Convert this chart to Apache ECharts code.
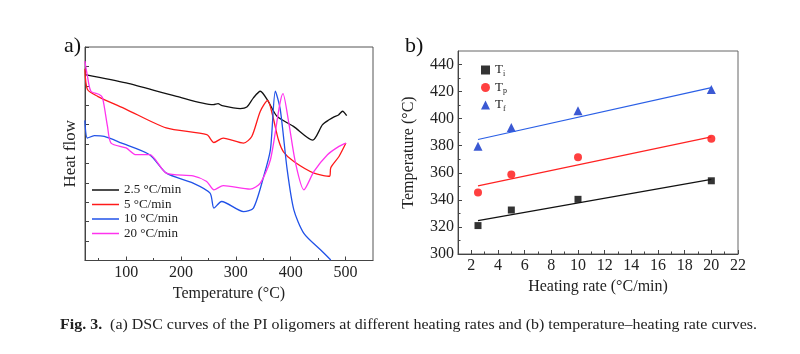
<!DOCTYPE html>
<html>
<head>
<meta charset="utf-8">
<script src="https://cdn.jsdelivr.net/npm/echarts@6/dist/echarts.min.js"></script>
<style>
  html, body { margin: 0; padding: 0; background: #fff; }
  #chart { width: 800px; height: 354px; }
</style>
</head>
<body>
<div id="chart"></div>
<script>
// (a) DSC curves: [temperature °C, heat flow (a.u.)]
const dsc2_5 = [[25.3, 9.58], [100, 9.15], [191.8, 8.46], [259, 8.03], [267.5, 8.08], [275, 7.98],
  [308, 7.83], [320, 7.91], [332, 8.38], [344.6, 8.72], [359, 8.2], [375, 7.43], [405, 6.91],
  [440, 6.2], [458, 7.0], [470, 7.25], [479, 7.4], [487, 7.5], [494.5, 7.69], [502, 7.46]];
const dsc5 = [[24.8, 9.88], [29.5, 8.81], [48, 8.46], [100, 7.79], [173, 6.83], [247, 6.48],
  [260, 6.08], [277, 6.31], [314, 6.05], [329, 6.39], [344.6, 7.69], [358, 8.25], [366.6, 7.52],
  [377.6, 6.22], [386.8, 5.6], [405.7, 5.1], [442.4, 4.5], [471, 4.34], [473, 4.78], [488, 5.36],
  [500.6, 6.05]];
const dsc10 = [[24.8, 7.22], [29.5, 6.31], [42, 6.43], [60, 6.39], [90.8, 6.06], [142.8, 5.45],
  [173.4, 4.5], [222, 3.99], [253, 3.47], [260, 2.7], [274, 3.04], [314, 2.52], [332, 2.7],
  [350.7, 4.33], [363, 5.71], [372, 8.72], [381, 7.77], [393.6, 4.67], [405.7, 2.61], [424, 1.4],
  [454.7, 0.54], [473, 0.03]];
const dsc20 = [[24.8, 10.27], [29.5, 9.49], [35.8, 8.72], [51, 8.55], [57, 8.38], [66, 6.91],
  [72.5, 6.05], [100, 5.8], [118, 5.45], [142.8, 5.45], [173.4, 4.5], [222, 4.36], [246.8, 4.07],
  [260, 3.64], [277, 3.86], [326, 3.68], [344.6, 3.99], [363, 5.19], [386, 8.6], [396.5, 7.09],
  [408.8, 5.02], [424, 3.64], [442.4, 4.59], [467, 5.45], [488, 5.88], [500.6, 6.05]];
const dscNames = ['2.5 °C/min', '5 °C/min', '10 °C/min', '20 °C/min'];
const tempTicks = [100, 200, 300, 400, 500];
const tempMinor = [50, 150, 250, 350, 450];

// (b) characteristic temperatures vs heating rate
const rates = [2.5, 5, 10, 20];
const ti = [321, 332.5, 340.4, 354.1];
const tp = [345.5, 358.8, 371.4, 385.1];
const tf = [379.7, 393.5, 405.8, 421.5];
const fitRates = [2.5, 20];
const tiFit = [324.6, 355.1];
const tpFit = [350.4, 386.6];
const tfFit = [384.6, 423.0];
const rateTicks = [2, 4, 6, 8, 10, 12, 14, 16, 18, 20, 22];
const rateMinor = [3, 5, 7, 9, 11, 13, 15, 17, 19, 21];
const tempYTicks = [300, 320, 340, 360, 380, 400, 420, 440];
const tempYMinor = [310, 330, 350, 370, 390, 410, 430];

const FONT = "'Liberation Serif', 'Times New Roman', serif";
const AXIS = '#444';
const pairs = (xs, ys) => xs.map((x, i) => [x, ys[i]]);

const chart = echarts.init(document.getElementById('chart'));

const axisBase = {
  axisLine: { show: true, lineStyle: { color: AXIS, width: 1 } },
  splitLine: { show: false },
  nameTextStyle: { fontFamily: FONT, fontSize: 16, color: '#222' },
  axisLabel: { fontFamily: FONT, fontSize: 16, color: '#222', margin: 4 }
};
const minorAxis = (extra) => Object.assign({
  type: 'value', axisLine: { show: false }, axisLabel: { show: false }, splitLine: { show: false }
}, extra);

chart.setOption({
  animation: false,
  title: [
    { text: 'a)', left: 59, top: 30, textStyle: { fontFamily: FONT, fontSize: 22, fontWeight: 'normal', color: '#111' } },
    { text: 'b)', left: 400, top: 30, textStyle: { fontFamily: FONT, fontSize: 22, fontWeight: 'normal', color: '#111' } }
  ],
  grid: [
    { left: 85, top: 47, width: 288, height: 213.5, show: true, borderColor: '#555', borderWidth: 1 },
    { left: 458, top: 51, width: 280, height: 203, show: true, borderColor: '#666', borderWidth: 1 }
  ],
  legend: [
    {
      data: dscNames, orient: 'vertical', left: 87, top: 178,
      icon: 'rect', itemWidth: 27, itemHeight: 1.5, itemGap: 0.5,
      textStyle: { fontFamily: FONT, fontSize: 13, color: '#222', lineHeight: 14 }
    },
    {
      data: ['Ti', 'Tp', 'Tf'], orient: 'vertical', left: 476, top: 58,
      itemWidth: 9, itemHeight: 9, itemGap: 3,
      formatter: n => 'T{s|' + n.slice(1) + '}',
      textStyle: {
        fontFamily: FONT, fontSize: 13, color: '#222', lineHeight: 14,
        rich: { s: { fontFamily: FONT, fontSize: 8, color: '#222', padding: [7, 0, 0, 0] } }
      }
    }
  ],
  xAxis: [
    Object.assign({}, axisBase, {
      type: 'value', gridIndex: 0, min: 25, max: 550, position: 'bottom',
      name: 'Temperature (°C)', nameLocation: 'middle', nameGap: 20,
      axisTick: { inside: true, length: 4, customValues: tempTicks, lineStyle: { color: AXIS } },
      axisLabel: Object.assign({}, axisBase.axisLabel, { customValues: tempTicks })
    }),
    minorAxis({ gridIndex: 0, min: 25, max: 550, position: 'bottom',
      axisTick: { inside: true, length: 2.5, customValues: tempMinor, lineStyle: { color: AXIS } } }),
    Object.assign({}, axisBase, {
      type: 'value', gridIndex: 1, min: 1, max: 22, position: 'bottom',
      name: 'Heating rate (°C/min)', nameLocation: 'middle', nameGap: 24,
      axisTick: { inside: true, length: 4, customValues: rateTicks, lineStyle: { color: AXIS } },
      axisLabel: Object.assign({}, axisBase.axisLabel, { customValues: rateTicks })
    }),
    minorAxis({ gridIndex: 1, min: 1, max: 22, position: 'bottom',
      axisTick: { inside: true, length: 2.5, customValues: rateMinor, lineStyle: { color: AXIS } } })
  ],
  yAxis: [
    Object.assign({}, axisBase, {
      type: 'value', gridIndex: 0, min: 0, max: 11, interval: 1, position: 'left',
      name: 'Heat flow', nameLocation: 'middle', nameGap: 6,
      nameTextStyle: Object.assign({}, axisBase.nameTextStyle, { fontSize: 17 }),
      axisTick: { inside: true, length: 4, lineStyle: { color: AXIS } },
      axisLabel: { show: false }
    }),
    Object.assign({}, axisBase, {
      type: 'value', gridIndex: 1, min: 300, max: 450, position: 'left',
      name: 'Temperature (°C)', nameLocation: 'middle', nameGap: 41,
      axisTick: { inside: true, length: 4, customValues: tempYTicks, lineStyle: { color: AXIS } },
      axisLabel: Object.assign({}, axisBase.axisLabel, { customValues: tempYTicks })
    }),
    minorAxis({ gridIndex: 1, min: 300, max: 450, position: 'left',
      axisTick: { inside: true, length: 2.5, customValues: tempYMinor, lineStyle: { color: AXIS } } })
  ],
  series: [
    { name: dscNames[0], type: 'line', xAxisIndex: 0, yAxisIndex: 0, data: dsc2_5, symbol: 'none', smooth: 0.25,
      lineStyle: { color: '#111', width: 1.3 }, itemStyle: { color: '#111' } },
    { name: dscNames[1], type: 'line', xAxisIndex: 0, yAxisIndex: 0, data: dsc5, symbol: 'none', smooth: 0.25,
      lineStyle: { color: '#ff1a1a', width: 1.3 }, itemStyle: { color: '#ff1a1a' } },
    { name: dscNames[2], type: 'line', xAxisIndex: 0, yAxisIndex: 0, data: dsc10, symbol: 'none', smooth: 0.25,
      lineStyle: { color: '#2152e8', width: 1.3 }, itemStyle: { color: '#2152e8' } },
    { name: dscNames[3], type: 'line', xAxisIndex: 0, yAxisIndex: 0, data: dsc20, symbol: 'none', smooth: 0.25,
      lineStyle: { color: '#ff33ee', width: 1.3 }, itemStyle: { color: '#ff33ee' } },

    { name: 'Ti fit', type: 'line', xAxisIndex: 2, yAxisIndex: 1, data: pairs(fitRates, tiFit), symbol: 'none',
      lineStyle: { color: '#111', width: 1.2 } },
    { name: 'Tp fit', type: 'line', xAxisIndex: 2, yAxisIndex: 1, data: pairs(fitRates, tpFit), symbol: 'none',
      lineStyle: { color: '#ff2222', width: 1.2 } },
    { name: 'Tf fit', type: 'line', xAxisIndex: 2, yAxisIndex: 1, data: pairs(fitRates, tfFit), symbol: 'none',
      lineStyle: { color: '#2a5fe6', width: 1.2 } },
    { name: 'Ti', type: 'scatter', xAxisIndex: 2, yAxisIndex: 1, data: pairs(rates, ti), symbol: 'rect', symbolSize: 7,
      itemStyle: { color: '#000' } },
    { name: 'Tp', type: 'scatter', xAxisIndex: 2, yAxisIndex: 1, data: pairs(rates, tp), symbol: 'circle', symbolSize: 8,
      itemStyle: { color: '#ff1010' } },
    { name: 'Tf', type: 'scatter', xAxisIndex: 2, yAxisIndex: 1, data: pairs(rates, tf), symbol: 'triangle', symbolSize: 9,
      itemStyle: { color: '#0a2fc8' } }
  ],
  graphic: [{
    type: 'text', x: 60, y: 317, scaleX: 1.03,
    style: {
      text: '{b|Fig. 3.}  (a) DSC curves of the PI oligomers at different heating rates and (b) temperature–heating rate curves.',
      fontFamily: FONT, fontSize: 15.5, fill: '#222',
      rich: { b: { fontFamily: FONT, fontSize: 15.5, fontWeight: 'bold', fill: '#222' } }
    }
  }]
});
</script>
</body>
</html>
